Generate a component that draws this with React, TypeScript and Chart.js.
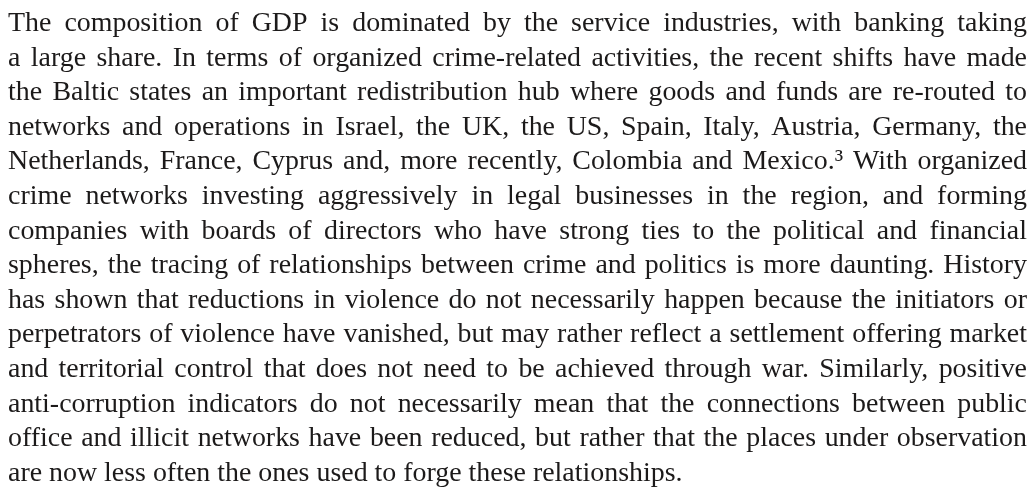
import { useEffect, useRef } from 'react';
import { Chart, registerables } from 'chart.js';

Chart.register(...registerables);

// Paragraph text, one entry per printed line (the last line is not justified)
const paragraphLines: string[] = [
  'The composition of GDP is dominated by the service industries, with banking taking',
  'a large share. In terms of organized crime-related activities, the recent shifts have made',
  'the Baltic states an important redistribution hub where goods and funds are re-routed to',
  'networks and operations in Israel, the UK, the US, Spain, Italy, Austria, Germany, the',
  'Netherlands, France, Cyprus and, more recently, Colombia and Mexico.\u00B3 With organized',
  'crime networks investing aggressively in legal businesses in the region, and forming',
  'companies with boards of directors who have strong ties to the political and financial',
  'spheres, the tracing of relationships between crime and politics is more daunting. History',
  'has shown that reductions in violence do not necessarily happen because the initiators or',
  'perpetrators of violence have vanished, but may rather reflect a settlement offering market',
  'and territorial control that does not need to be achieved through war. Similarly, positive',
  'anti-corruption indicators do not necessarily mean that the connections between public',
  'office and illicit networks have been reduced, but rather that the places under observation',
  'are now less often the ones used to forge these relationships.',
];

const FONT_FAMILY = '"Liberation Serif", "Times New Roman", serif';
const TEXT_COLOR = '#1c1a1a';

const paragraphPlugin = {
  id: 'paragraph',
  afterDraw(chart: any) {
    const ctx: CanvasRenderingContext2D = chart.ctx;
    const left = 8;
    const right = 1027;
    const width = right - left;
    const firstBaseline = 31;
    const lineGap = 34.6;
    const lastLineTargetWidth = 675;

    ctx.save();
    ctx.fillStyle = TEXT_COLOR;
    ctx.textBaseline = 'alphabetic';
    ctx.textAlign = 'left';

    // choose font size so the free-running last line matches the reference width
    ctx.font = `100px ${FONT_FAMILY}`;
    const last = paragraphLines[paragraphLines.length - 1];
    let size = (100 * lastLineTargetWidth) / ctx.measureText(last).width;
    ctx.font = `${size}px ${FONT_FAMILY}`;
    for (const line of paragraphLines) {
      const words = line.split(' ');
      const minW = words.reduce((s, w) => s + ctx.measureText(w).width, 0) + (words.length - 1) * size * 0.2;
      if (minW > width) size = size * (width / minW);
    }
    ctx.font = `${size}px ${FONT_FAMILY}`;

    paragraphLines.forEach((line, i) => {
      const y = firstBaseline + i * lineGap;
      const isLast = i === paragraphLines.length - 1;
      if (isLast) {
        ctx.fillText(line, left, y);
        return;
      }
      const words = line.split(' ');
      const widths = words.map((w) => ctx.measureText(w).width);
      const total = widths.reduce((a, b) => a + b, 0);
      const gap = words.length > 1 ? (width - total) / (words.length - 1) : 0;
      let x = left;
      words.forEach((w, k) => {
        ctx.fillText(w, x, y);
        x += widths[k] + gap;
      });
    });
    ctx.restore();
  },
};

export default function App() {
  const canvasRef = useRef<HTMLCanvasElement | null>(null);

  useEffect(() => {
    if (!canvasRef.current) return;
    const chart = new Chart(canvasRef.current, {
      type: 'scatter',
      data: { datasets: [{ data: [] }] },
      options: {
        animation: false,
        responsive: true,
        maintainAspectRatio: false,
        layout: { padding: 0 },
        events: [],
        scales: {
          x: { display: false },
          y: { display: false },
        },
        plugins: {
          legend: { display: false },
          tooltip: { enabled: false },
          title: { display: false },
        },
      },
      plugins: [paragraphPlugin],
    });
    return () => chart.destroy();
  }, []);

  return (
    <div
      style={{
        position: 'absolute',
        left: 0,
        top: 0,
        width: 1035,
        height: 488,
        background: '#ffffff',
      }}
    >
      <canvas ref={canvasRef} />
    </div>
  );
}
